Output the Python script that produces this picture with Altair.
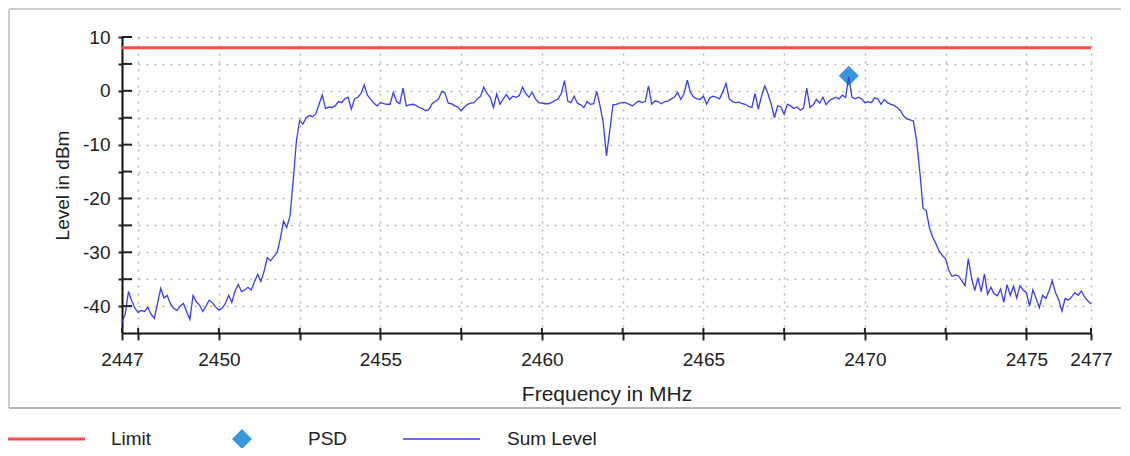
import altair as alt
import pandas as pd

# ---------------- data ----------------
freq_start = 2447.0
freq_step = 0.1
sum_level = [
    -43.0, -41.5, -37.3, -39.0, -40.4, -41.2, -40.8, -41.0, -40.2, -41.5,
    -42.3, -39.5, -36.7, -38.5, -38.0, -39.6, -40.4, -40.8, -40.0, -39.5,
    -41.0, -42.5, -38.0, -39.2, -39.8, -41.0, -40.0, -38.9, -39.4, -40.2,
    -40.7, -40.4, -39.5, -38.0, -39.3, -37.2, -36.0, -37.3, -37.0, -36.5,
    -37.0, -35.5, -34.1, -35.4, -33.5, -31.0, -31.6, -30.8, -30.1, -27.5,
    -24.2, -25.4, -23.3, -16.7, -9.3, -5.5, -6.2, -5.0, -4.6, -4.8,
    -4.3, -2.5, -0.8, -3.3, -3.0, -3.1, -2.8, -2.0, -2.2, -1.5,
    -1.2, -3.4, -1.5, -1.2, -0.5, 1.1, -0.8, -1.6, -2.3, -2.8,
    -2.2, -2.4, -2.5, -2.5, -0.3, -2.0, -2.4, 0.5, -2.8, -2.6,
    -2.5, -2.7, -3.1, -3.3, -3.7, -3.5, -2.4, -2.0, -1.5, -0.1,
    -0.4, -2.3, -2.4, -2.8, -3.0, -3.7, -3.0, -2.5, -2.3, -2.2,
    -1.5, -1.0, 0.7, -0.5, -1.2, -3.1, -0.6, -2.5, -1.5, -0.7,
    -1.6, -1.0, -1.2, -0.9, 0.7, -0.5, -1.2, -0.3, -1.5, -2.2,
    -2.3, -2.4, -2.4, -2.2, -1.8, -1.5, -0.5, 1.9, -1.9, -2.2,
    -1.0, -2.3, -2.6, -3.1, -2.0, -2.5, -2.4, -0.1, -2.8, -6.0,
    -12.1, -7.5, -2.6, -2.5, -2.3, -2.2, -2.2, -2.5, -2.8, -2.3,
    -1.9, -2.2, -2.0, 0.9, -2.5, -1.9, -2.0, -2.4, -2.0, -1.9,
    -1.5, -1.2, -0.3, -1.6, -0.5, 2.0, -0.3, -1.2, -1.5, -1.6,
    -1.0, -2.5, -1.3, -1.0, -1.2, -1.5, -0.2, 1.4, -1.5, -2.0,
    -2.2, -2.1, -2.4, -2.5, -2.9, -3.1, -0.5, -3.4, -1.0, 0.9,
    -0.6, -2.5, -5.0, -2.8, -3.0, -4.4, -2.5, -2.8, -3.3, -3.0,
    -3.6, -3.2, 0.5, -3.1, -2.6, -1.6, -2.3, -1.2, -2.6, -1.8,
    -1.5, -1.2, -1.5, -0.8, -1.2, 2.6, -1.2, -1.5, -1.2, -1.5,
    -2.2, -2.0, -2.2, -1.3, -1.5, -2.5, -1.6, -2.2, -2.5, -2.7,
    -3.1, -3.7, -4.7, -5.2, -5.4, -5.6, -9.3, -15.0, -21.8, -22.3,
    -25.5, -27.2, -28.4, -29.8, -30.6, -31.2, -33.4, -34.5, -34.2, -34.4,
    -35.3, -36.2, -31.2, -34.7, -37.1, -34.7, -37.3, -34.0, -37.8, -36.5,
    -37.7, -38.1, -36.8, -39.3, -36.0, -38.0, -36.3, -38.5, -36.2, -37.0,
    -37.5, -40.0, -37.0, -38.6, -40.3, -38.0, -38.6, -37.2, -35.3, -37.5,
    -38.8, -40.9, -38.6, -38.9, -38.3, -37.5, -38.0, -37.2, -38.3, -39.0,
    -39.6,
]
sum_freq = [round(freq_start + i * freq_step, 1) for i in range(len(sum_level))]

limit_freq = [2447, 2477]
limit_level = [8, 8]

psd_freq = [2469.5]
psd_level = [2.8]

x_ticks = [2447, 2447.5, 2450, 2452.5, 2455, 2457.5, 2460, 2462.5,
           2465, 2467.5, 2470, 2472.5, 2475, 2477]
y_ticks = [10, 5, 0, -5, -10, -15, -20, -25, -30, -35, -40]
x_domain = [2447, 2477]
y_domain = [-45, 10]

legend_names = ["Limit", "PSD", "Sum Level"]

# ---------------- styling ----------------
W, H = 969, 296
FONT = "Liberation Sans"
RED = "#ff4a4a"
BLUE = "#3c3cf5"
PSD_COLOR = "#3a96dc"
TXT = "#222222"

xs = alt.Scale(domain=x_domain, nice=False, zero=False)
ys = alt.Scale(domain=y_domain, nice=False, zero=False)

sum_df = pd.DataFrame({"f": sum_freq, "lvl": sum_level})
lim_df = pd.DataFrame({"f": limit_freq, "lvl": limit_level})
psd_df = pd.DataFrame({"f": psd_freq, "lvl": psd_level})
xt_df = pd.DataFrame({"f": x_ticks})
yt_df = pd.DataFrame({"lvl": y_ticks})

x_axis = alt.Axis(
    values=x_ticks,
    labelExpr="(datum.value % 5 == 0 || datum.value == 2447 || datum.value == 2477) ? datum.value + '' : ''",
    title="Frequency in MHz",
    grid=True, gridDash=[2, 6], gridColor="#b3b3b3", gridWidth=1.5,
    domainColor="#111111", domainWidth=2,
    tickColor="#222222", tickWidth=2, tickSize=7,
    labelFont=FONT, labelFontSize=19, labelColor=TXT, labelPadding=10,
    labelFlush=False, labelOverlap=False,
    titleFont=FONT, titleFontSize=21, titleFontWeight="normal", titleColor=TXT,
    titleY=61, titleBaseline="middle",
)
y_axis = alt.Axis(
    values=y_ticks,
    labelExpr="datum.value % 10 == 0 ? datum.value + '' : ''",
    title="Level in dBm",
    grid=True, gridDash=[2, 6], gridColor="#b3b3b3", gridWidth=1.5,
    domainColor="#111111", domainWidth=2,
    tickColor="#222222", tickWidth=2, tickSize=4,
    labelFont=FONT, labelFontSize=19, labelColor=TXT, labelPadding=8,
    labelOverlap=False,
    titleFont=FONT, titleFontSize=19, titleFontWeight="normal", titleColor=TXT,
    titleAngle=270, titleX=-60, titleY=H / 2, titleAlign="center", titleBaseline="middle",
)

X = alt.X("f:Q", scale=xs, axis=x_axis)
Y = alt.Y("lvl:Q", scale=ys, axis=y_axis)

psd = alt.Chart(psd_df).mark_point(shape="diamond", filled=True, size=400, opacity=1, color=PSD_COLOR).encode(
    x=X, y=Y)
sum_line = alt.Chart(sum_df).mark_line(color=BLUE, strokeWidth=1.3).encode(x=X, y=Y)
limit = alt.Chart(lim_df).mark_line(color=RED, strokeWidth=3).encode(x=X, y=Y)
# inward halves of the crossing ticks
x_in = alt.Chart(xt_df).mark_rule(color="#222222", strokeWidth=2).encode(
    x=X, y=alt.value(H - 5), y2=alt.value(H))
y_in = alt.Chart(yt_df).mark_rule(color="#222222", strokeWidth=2).encode(
    y=Y, x=alt.value(0), x2=alt.value(10))

# outer frame (gray panel border)
one = pd.DataFrame({"k": [0]})
frame_top = alt.Chart(one).mark_rule(color="#cccccc", strokeWidth=2).encode(
    x=alt.value(-113), x2=alt.value(1000), y=alt.value(-28))
frame_left = alt.Chart(one).mark_rule(color="#cccccc", strokeWidth=2).encode(
    x=alt.value(-113), y=alt.value(-28), y2=alt.value(371))
frame_bottom = alt.Chart(one).mark_rule(color="#b5b5b5", strokeWidth=2).encode(
    x=alt.value(-113), x2=alt.value(1000), y=alt.value(371))

# legend (drawn below the panel)
LY = 402
leg_lim_line = alt.Chart(one).mark_rule(color=RED, strokeWidth=3).encode(
    x=alt.value(-114), x2=alt.value(-37), y=alt.value(LY))
leg_psd_sym = alt.Chart(one).mark_point(shape="diamond", filled=True, size=400, opacity=1, color=PSD_COLOR).encode(
    x=alt.value(120), y=alt.value(LY))
leg_sum_line = alt.Chart(one).mark_rule(color=BLUE, strokeWidth=1.3).encode(
    x=alt.value(281), x2=alt.value(358), y=alt.value(LY))


def leg_text(name, xpos):
    return alt.Chart(pd.DataFrame({"t": [name]})).mark_text(
        align="left", baseline="middle", font=FONT, fontSize=19, color=TXT
    ).encode(text="t:N", x=alt.value(xpos), y=alt.value(LY))


chart = alt.layer(
    psd, sum_line, limit, x_in, y_in,
    frame_top, frame_left, frame_bottom,
    leg_lim_line, leg_psd_sym, leg_sum_line,
    leg_text(legend_names[0], -11), leg_text(legend_names[1], 186), leg_text(legend_names[2], 385),
).properties(
    width=W, height=H,
    autosize=alt.AutoSizeParams(type="none"),
    padding={"left": 114, "top": 29, "right": 30, "bottom": 115},
    background="white",
).configure_view(stroke=None)

chart.save("out.html", embed_options={"renderer": "svg", "actions": False})
